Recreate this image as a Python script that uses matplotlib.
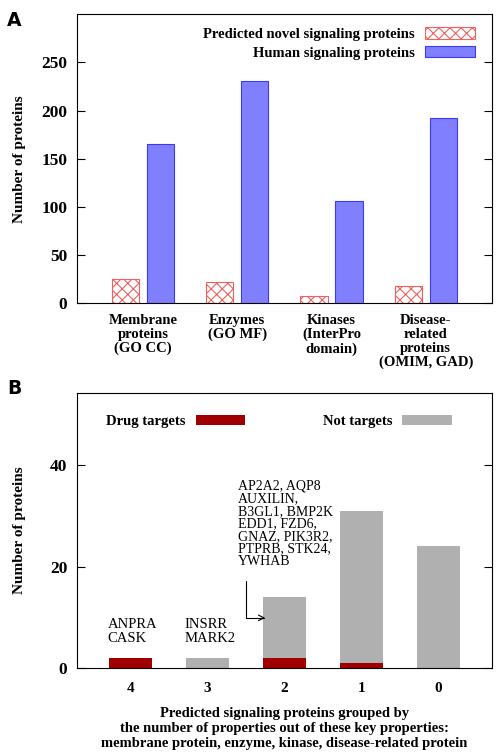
import matplotlib
matplotlib.use("Agg")
import matplotlib.pyplot as plt
import numpy as np

plt.rcParams['font.family'] = ['Liberation Serif', 'DejaVu Serif']
plt.rcParams['hatch.linewidth'] = 0.8

# panel A data
categories = ["Membrane\nproteins\n(GO CC)", "Enzymes\n(GO MF)",
              "Kinases\n(InterPro\ndomain)", "Disease-\nrelated\nproteins\n(OMIM, GAD)"]
novel = [25, 22, 7, 18]
human = [165, 231, 106, 192]

# panel B data
groups = ["4", "3", "2", "1", "0"]
drug_targets = [2, 0, 2, 1, 0]
not_targets = [0, 2, 12, 30, 24]

fig = plt.figure(figsize=(4.98, 7.54), dpi=100)
bold = {'weight': 'bold', 'size': 10.5}

# ---- panel A ----
axA = fig.add_axes([0.1546, 0.598, 0.833, 0.383])
x = np.arange(len(categories))
w = 0.29
axA.bar(x - 0.185, novel, w, facecolor='white', edgecolor='#f06060',
        hatch='xxx', linewidth=0.8, label="Predicted novel signaling proteins")
axA.bar(x + 0.185, human, w, facecolor='#8080ff', edgecolor='#3a3aee',
        linewidth=0.8, label="Human signaling proteins")
axA.set_xlim(-0.7, 3.7)
axA.set_ylim(0, 300)
axA.set_yticks([0, 50, 100, 150, 200, 250])
axA.set_xticks(x)
axA.set_xticklabels(categories, fontweight='bold', fontsize=10.5, linespacing=1.07)
axA.tick_params(axis='x', length=0, pad=8)
axA.tick_params(axis='y', direction='in', length=6, right=True, labelsize=12.5, pad=7)
for t in axA.get_yticklabels():
    t.set_fontweight('bold')
axA.set_ylabel("Number of proteins", fontweight='bold', fontsize=11, labelpad=11)
axA.legend(loc='upper right', frameon=False, markerfirst=False,
           prop=bold, handlelength=3.4, handleheight=0.8,
           bbox_to_anchor=(0.99, 1.0), labelspacing=0.33, handletextpad=0.7)
fig.text(0.014, 0.966, "A", family='DejaVu Sans', fontweight='bold', fontsize=13.5)

# ---- panel B ----
axB = fig.add_axes([0.1546, 0.114, 0.833, 0.365])
xb = np.arange(len(groups))
wb = 0.56
hd = axB.bar(xb, drug_targets, wb, color='#a00000', label="Drug targets")
hn = axB.bar(xb, not_targets, wb, bottom=drug_targets, color='#b0b0b0', label="Not targets")
axB.set_xlim(-0.7, 4.7)
axB.set_ylim(0, 54.3)
axB.set_yticks([0, 20, 40])
axB.set_xticks(xb)
axB.set_xticklabels(groups, fontweight='bold', fontsize=11)
axB.tick_params(axis='x', length=0, pad=10)
axB.tick_params(axis='y', direction='in', length=6, right=True, labelsize=12.5, pad=7)
for t in axB.get_yticklabels():
    t.set_fontweight('bold')
axB.set_ylabel("Number of proteins", fontweight='bold', fontsize=11, labelpad=17)
axB.set_xlabel("Predicted signaling proteins grouped by\n"
               "the number of properties out of these key properties:\n"
               "membrane protein, enzyme, kinase, disease-related protein",
               fontweight='bold', fontsize=10.5, labelpad=9, linespacing=1.2)
legD = axB.legend(handles=[hd], loc='center right', frameon=False, markerfirst=False,
                  prop=bold, handlelength=3.4, handleheight=0.6, handletextpad=0.7,
                  bbox_to_anchor=(0.42, 0.895), borderaxespad=0)
axB.add_artist(legD)
axB.legend(handles=[hn], loc='center right', frameon=False, markerfirst=False,
           prop=bold, handlelength=3.4, handleheight=0.6, handletextpad=0.7,
           bbox_to_anchor=(0.918, 0.895), borderaxespad=0)

axB.text(-0.3, 4.6, "ANPRA\nCASK", fontsize=10.5, va='bottom', ha='left', linespacing=1.1)
axB.text(0.7, 4.6, "INSRR\nMARK2", fontsize=10.5, va='bottom', ha='left', linespacing=1.1)
axB.text(1.39, 19.8, "AP2A2, AQP8\nAUXILIN,\nB3GL1, BMP2K\nEDD1, FZD6,\n"
         "GNAZ, PIK3R2,\nPTPRB, STK24,\nYWHAB", fontsize=10, va='bottom', ha='left',
         linespacing=0.95)
axB.annotate("", xy=(1.75, 9.9), xytext=(1.5, 17.2),
             arrowprops=dict(arrowstyle='->', color='black', lw=0.8,
                             connectionstyle='angle,angleA=90,angleB=0,rad=0',
                             shrinkA=0, shrinkB=0))
fig.text(0.014, 0.478, "B", family='DejaVu Sans', fontweight='bold', fontsize=13.5)

fig.savefig("out.png", dpi=100)
